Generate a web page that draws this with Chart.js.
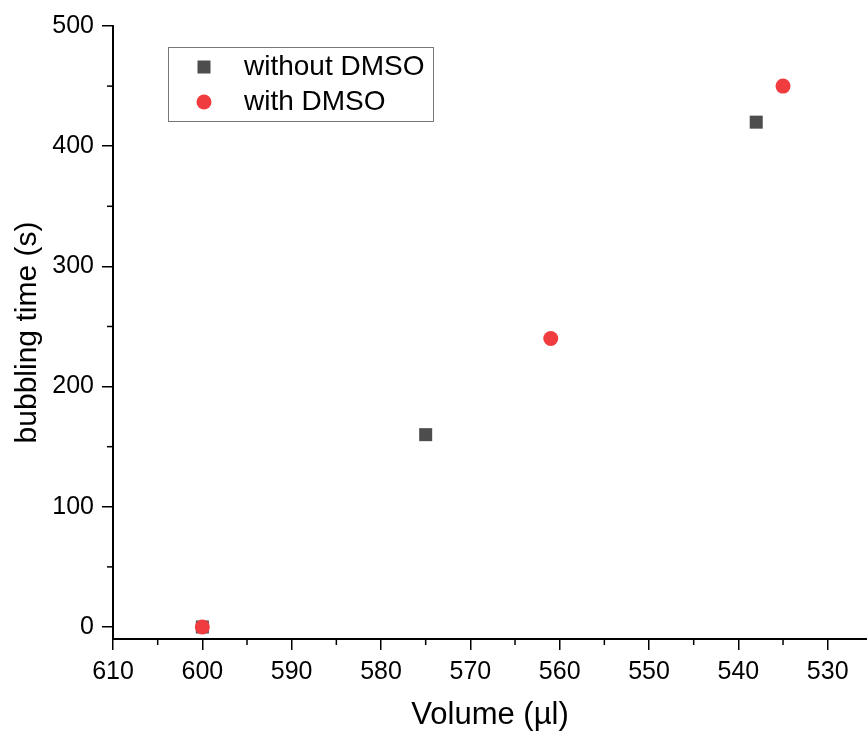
<!DOCTYPE html>
<html>
<head>
<meta charset="utf-8">
<script src="https://cdn.jsdelivr.net/npm/chart.js@4/dist/chart.umd.min.js"></script>
<style>
  html, body { margin: 0; padding: 0; background: #fff; }
  #wrap { width: 867px; height: 734px; }
</style>
</head>
<body>
<div id="wrap"><canvas id="chart" width="867" height="734"></canvas></div>
<script>
// Datos
const seriesNames = ["without DMSO", "with DMSO"];
const volNoDmso = [600, 575, 538];
const timeNoDmso = [0, 160, 420];
const volDmso = [600, 561, 535];
const timeDmso = [0, 240, 450];
const xTicks = [610, 600, 590, 580, 570, 560, 550, 540, 530];
const yTicks = [0, 100, 200, 300, 400, 500];
const xMinorTicks = [605, 595, 585, 575, 565, 555, 545, 535];
const yMinorTicks = [50, 150, 250, 350, 450];

const FONT = "'Liberation Sans', Arial, sans-serif";
const grayColor = "#4d4d4d";
const redColor = "#f03c3f";

function toPoints(xs, ys) {
  return xs.map((x, i) => ({ x: x, y: ys[i] }));
}

// Ticks menores
const minorTicks = {
  id: "minorTicks",
  afterDraw(chart) {
    const ctx = chart.ctx;
    const xs = chart.scales.x;
    const ys = chart.scales.y;
    const area = chart.chartArea;
    ctx.save();
    ctx.strokeStyle = "#000";
    ctx.lineWidth = 1.5;
    xMinorTicks.forEach(v => {
      const px = xs.getPixelForValue(v);
      ctx.beginPath();
      ctx.moveTo(px, area.bottom);
      ctx.lineTo(px, area.bottom + 6);
      ctx.stroke();
    });
    yMinorTicks.forEach(v => {
      const py = ys.getPixelForValue(v);
      ctx.beginPath();
      ctx.moveTo(area.left, py);
      ctx.lineTo(area.left - 6, py);
      ctx.stroke();
    });
    ctx.restore();
  }
};

// Leyenda dentro del area
const boxLegend = {
  id: "boxLegend",
  afterDraw(chart) {
    const ctx = chart.ctx;
    const x0 = 168, y0 = 47, w = 265, h = 74;
    ctx.save();
    ctx.fillStyle = "#fff";
    ctx.fillRect(x0, y0, w, h);
    ctx.strokeStyle = "#777";
    ctx.lineWidth = 1;
    ctx.strokeRect(x0 + 0.5, y0 + 0.5, w, h);
    ctx.font = "28px " + FONT;
    ctx.textBaseline = "middle";
    // fila 1
    ctx.fillStyle = grayColor;
    ctx.fillRect(204 - 6.5, 67 - 6.5, 13, 13);
    ctx.fillStyle = "#000";
    ctx.fillText(seriesNames[0], 244, 67);
    // fila 2
    ctx.fillStyle = redColor;
    ctx.beginPath();
    ctx.arc(204, 102, 7.5, 0, Math.PI * 2);
    ctx.fill();
    ctx.fillStyle = "#000";
    ctx.fillText(seriesNames[1], 244, 102);
    ctx.restore();
  }
};

new Chart(document.getElementById("chart").getContext("2d"), {
  type: "scatter",
  data: {
    datasets: [
      {
        label: seriesNames[0],
        data: toPoints(volNoDmso, timeNoDmso),
        pointStyle: "rect",
        pointRadius: 9.2,
        pointHoverRadius: 9.2,
        backgroundColor: grayColor,
        borderColor: grayColor,
        borderWidth: 0,
        order: 2
      },
      {
        label: seriesNames[1],
        data: toPoints(volDmso, timeDmso),
        pointStyle: "circle",
        pointRadius: 7.5,
        pointHoverRadius: 7.5,
        backgroundColor: redColor,
        borderColor: redColor,
        borderWidth: 0,
        order: 1
      }
    ]
  },
  options: {
    responsive: false,
    animation: false,
    layout: { autoPadding: false, padding: { top: 26, right: 0, left: 0, bottom: 0 } },
    plugins: {
      legend: { display: false },
      tooltip: { enabled: false }
    },
    scales: {
      x: {
        type: "linear",
        reverse: true,
        min: 525.6,
        max: 610,
        afterBuildTicks: s => { s.ticks = xTicks.map(v => ({ value: v })); },
        afterFit: s => { s.height = 95; s.paddingRight = 0; s.paddingLeft = 0; },
        border: { display: true, color: "#000", width: 2 },
        grid: { drawOnChartArea: false, drawTicks: true, tickLength: 11, color: "#000", lineWidth: 1.5 },
        ticks: {
          autoSkip: false,
          maxRotation: 0,
          color: "#000",
          padding: 7,
          font: { family: FONT, size: 25 }
        },
        title: {
          display: true,
          text: "Volume (µl)",
          color: "#000",
          font: { family: FONT, size: 31 },
          padding: { top: 0, bottom: 0 }
        }
      },
      y: {
        type: "linear",
        min: -10,
        max: 500,
        afterBuildTicks: s => { s.ticks = yTicks.map(v => ({ value: v })); },
        afterFit: s => { s.width = 113; },
        border: { display: true, color: "#000", width: 2 },
        grid: { drawOnChartArea: false, drawTicks: true, tickLength: 11, color: "#000", lineWidth: 1.5 },
        ticks: {
          autoSkip: false,
          color: "#000",
          padding: 8,
          font: { family: FONT, size: 25 }
        },
        title: {
          display: true,
          text: "bubbling time (s)",
          color: "#000",
          font: { family: FONT, size: 30 },
          padding: { top: 10, bottom: 0 }
        }
      }
    }
  },
  plugins: [minorTicks, boxLegend]
});
</script>
</body>
</html>
